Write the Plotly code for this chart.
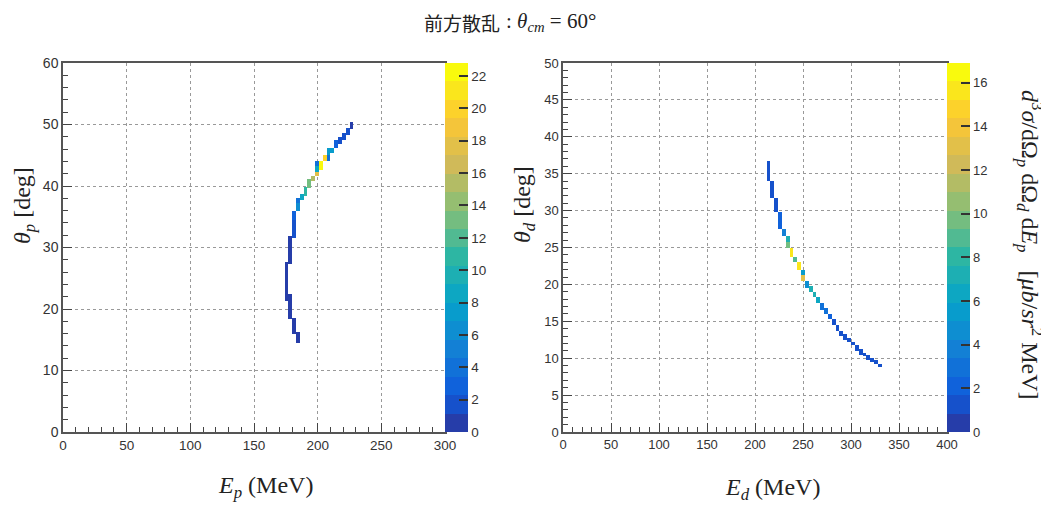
import plotly.graph_objects as go

# ---------------- data ----------------
# Left panel: proton, bins of 3 MeV x 0.3 deg; segments of filled bins per E column
ep_center = [184.5, 181.5, 178.5, 175.5, 178.5, 181.5, 181.5, 184.5, 184.5, 187.5,
             190.5, 193.5, 196.5, 199.5, 199.5, 199.5, 202.5, 205.5, 208.5, 208.5,
             211.5, 214.5, 217.5, 220.5, 223.5, 226.5]
thp_lo = [14.4, 15.9, 18.3, 21.3, 27.3, 31.5, 34.5, 36.0, 37.2, 37.8,
          38.4, 39.6, 40.8, 41.7, 42.3, 43.2, 42.6, 44.1, 44.1, 45.0,
          45.3, 46.2, 46.8, 47.4, 48.3, 49.2]
thp_hi = [16.2, 18.6, 22.5, 27.6, 31.8, 34.5, 36.0, 37.2, 38.1, 38.7,
          39.9, 41.1, 41.7, 42.3, 43.2, 44.1, 44.1, 45.0, 45.0, 46.2,
          46.2, 47.4, 48.0, 48.6, 49.5, 50.4]
val_p = [1.0, 1.0, 1.0, 1.0, 1.0, 1.2, 3.0, 6.5, 4.0, 9.0,
         11.0, 13.5, 15.5, 18.0, 8.0, 3.5, 22.5, 19.5, 3.5, 7.0,
         7.5, 3.0, 2.0, 2.0, 2.0, 1.0]

# Right panel: deuteron, bins of 4 MeV x 0.25 deg
ed_center = [214, 218, 222, 226, 230, 234, 234, 238, 242, 246,
             250, 250, 254, 258, 262, 266, 270, 274, 278, 282,
             286, 290, 294, 298, 302, 306, 310, 314, 318, 322,
             326, 330]
thd_lo = [34.0, 31.7, 29.7, 27.5, 26.5, 25.7, 24.9, 23.7, 22.9, 22.0,
          21.3, 20.4, 19.5, 19.0, 18.3, 17.5, 16.6, 15.9, 15.2, 14.5,
          13.7, 13.0, 12.6, 12.2, 11.7, 11.0, 10.5, 10.2, 9.8, 9.6,
          9.3, 8.8]
thd_hi = [36.7, 34.0, 31.7, 29.7, 27.5, 26.5, 25.7, 24.9, 23.7, 22.9,
          22.0, 21.3, 20.4, 19.7, 19.0, 18.3, 17.6, 16.8, 16.0, 15.2,
          14.5, 13.8, 13.2, 12.7, 12.3, 11.8, 11.2, 10.7, 10.4, 10.0,
          9.8, 9.3]
val_d = [1.0, 1.0, 1.3, 2.5, 4.0, 7.0, 10.0, 16.0, 9.0, 16.0,
         5.5, 13.5, 5.0, 7.0, 7.5, 6.5, 3.0, 3.0, 2.5, 1.5,
         1.2, 1.2, 1.2, 1.5, 1.5, 1.5, 1.5, 1.2, 1.5, 1.5,
         1.2, 1.0]

zmax_p = 22.8
zmax_d = 16.9

# ---------------- helpers ----------------
def build_grid(xc, lo, hi, val, xw, yw, xmax, ymax):
    nx = int(round(xmax / xw))
    ny = int(round(ymax / yw))
    xs = [(i + 0.5) * xw for i in range(nx)]
    ys = [(j + 0.5) * yw for j in range(ny)]
    z = [[None] * nx for _ in range(ny)]
    for c, a, b, v in zip(xc, lo, hi, val):
        i = int(c // xw)
        for j in range(ny):
            if a <= ys[j] < b:
                z[j][i] = v
    return xs, ys, z

# ROOT kBird palette, 20 discrete contour bands
stops = [0, .125, .25, .375, .5, .625, .75, .875, 1]
R = [0.2082, 0.0592, 0.0780, 0.0232, 0.1802, 0.5301, 0.8186, 0.9956, 0.9764]
G = [0.1664, 0.3599, 0.5041, 0.6419, 0.7178, 0.7492, 0.7328, 0.7862, 0.9832]
B = [0.5293, 0.8684, 0.8385, 0.7914, 0.6425, 0.4662, 0.3499, 0.1968, 0.0539]

def bird(f):
    for k in range(len(stops) - 1):
        if f <= stops[k + 1]:
            t = (f - stops[k]) / (stops[k + 1] - stops[k])
            r = R[k] + t * (R[k + 1] - R[k])
            g = G[k] + t * (G[k + 1] - G[k])
            b = B[k] + t * (B[k + 1] - B[k])
            return f"rgb({int(r*255)},{int(g*255)},{int(b*255)})"
    return f"rgb({int(R[-1]*255)},{int(G[-1]*255)},{int(B[-1]*255)})"

NB = 20
cscale = []
for i in range(NB):
    col = bird(min(1.0, (i + 0.99) / NB))
    cscale.append([i / NB, col])
    cscale.append([(i + 1) / NB, col])

W, H = 1049, 507
OFF = 8  # default page body margin

def px(x):
    return (x - OFF) / W

def py(y):
    return 1 - (y - OFF) / H

ybot, ytop = py(432), py(63)
dom_l = [px(63), px(445)]
dom_r = [px(563), px(947)]

xl, yl, zl = build_grid(ep_center, thp_lo, thp_hi, val_p, 3, 0.3, 300, 60)
xr, yr, zr = build_grid(ed_center, thd_lo, thd_hi, val_d, 4, 0.25, 400, 50)

def cbar(xpos, fs):
    return dict(x=xpos, xanchor="left", xpad=0, ypad=0,
                y=(ybot + ytop) / 2, yanchor="middle", len=ytop - ybot, lenmode="fraction",
                thickness=23, thicknessmode="pixels", outlinewidth=0,
                ticks="inside", ticklen=9, tickwidth=1.5, tickcolor="#333",
                tick0=0, dtick=2, tickfont=dict(family="Liberation Sans", size=fs, color="#333"))

fig = go.Figure()
fig.add_trace(go.Heatmap(x=xl, y=yl, z=zl, zmin=0, zmax=zmax_p, colorscale=cscale,
                         xaxis="x", yaxis="y", colorbar=cbar(px(445), 13.5), hoverongaps=False))
fig.add_trace(go.Heatmap(x=xr, y=yr, z=zr, zmin=0, zmax=zmax_d, colorscale=cscale,
                         xaxis="x2", yaxis="y2", colorbar=cbar(px(947), 13), hoverongaps=False))

def ax(dom, rng, dt, mdt, anchor, fs):
    return dict(domain=dom, range=rng, dtick=dt, tick0=0, anchor=anchor, automargin=False,
                ticks="inside", ticklen=9, tickwidth=1.2, tickcolor="#444",
                showline=True, linecolor="#555", linewidth=1.5, mirror=True,
                showgrid=True, gridcolor="#999999", griddash="dot", gridwidth=1,
                zeroline=False, tickfont=dict(family="Liberation Sans", size=fs, color="#333"),
                minor=dict(dtick=mdt, ticks="inside", ticklen=5, tickwidth=1.2,
                           tickcolor="#444", showgrid=False))

fig.update_layout(
    width=W, height=H, autosize=False,
    margin=dict(l=0, r=0, t=0, b=0, pad=0, autoexpand=False),
    paper_bgcolor="white", plot_bgcolor="white", showlegend=False,
    xaxis=ax(dom_l, [0, 300], 50, 10, "y", 13.5),
    yaxis=ax([ybot, ytop], [0, 60], 10, 2, "x", 14),
    xaxis2=ax(dom_r, [0, 400], 50, 10, "y2", 13),
    yaxis2=ax([ybot, ytop], [0, 50], 5, 1, "x2", 13),
)

serif = "Liberation Serif"
ann = [
    dict(text="前方散乱", x=px(502), y=py(22), xanchor="right",
         font=dict(family="Noto Sans CJK JP", size=19, color="#222")),
    dict(text=": <i>θ</i><sub><i>cm</i></sub> = 60°", x=px(504), y=py(22), xanchor="left",
         font=dict(family=serif, size=21, color="#222")),
    dict(text="<i>E</i><sub><i>p</i></sub> (MeV)", x=px(265), y=py(487),
         font=dict(family=serif, size=24, color="#222")),
    dict(text="<i>E</i><sub><i>d</i></sub> (MeV)", x=px(772), y=py(489),
         font=dict(family=serif, size=24, color="#222")),
    dict(text="<i>θ</i><sub><i>p</i></sub> [deg]", x=px(24), y=py(206), textangle=-90,
         font=dict(family=serif, size=24, color="#222")),
    dict(text="<i>θ</i><sub><i>d</i></sub> [deg]", x=px(524), y=py(205), textangle=-90,
         font=dict(family=serif, size=24, color="#222")),
    dict(text="<i>d</i><sup>3</sup><i>σ</i>/dΩ<sub><i>p</i></sub> dΩ<sub><i>d</i></sub> d<i>E</i><sub><i>p</i></sub>&nbsp;&nbsp;&nbsp;[<i>μb</i>/<i>sr</i><sup>2</sup> MeV]",
         x=px(1030), y=py(245), textangle=90,
         font=dict(family=serif, size=24, color="#222")),
]
for a in ann:
    a.setdefault("xanchor", "center")
    a.update(xref="paper", yref="paper", showarrow=False, yanchor="middle")
fig.update_layout(annotations=ann)

fig.write_html("out.html")
